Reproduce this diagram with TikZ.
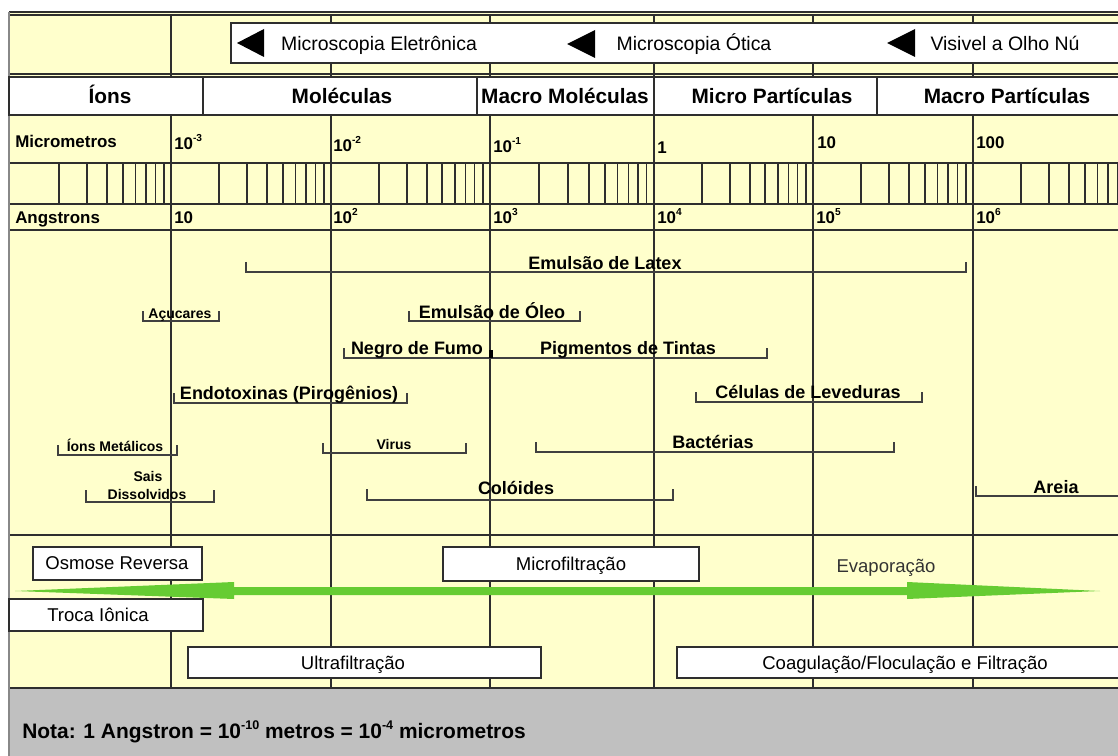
\documentclass[tikz,border=0pt]{standalone}
\usepackage{fontspec}
\setmainfont{Liberation Sans}
\definecolor{bgy}{HTML}{FFFFCC}
\definecolor{ln}{HTML}{2E2E2E}
\definecolor{grn}{HTML}{66CC33}
\definecolor{notegray}{HTML}{C0C0C0}
\definecolor{frame}{HTML}{888888}
\newcommand{\supx}[1]{\raisebox{0.45em}{\scalebox{0.6}{#1}}}
\begin{document}
\begin{tikzpicture}[x=0.75pt,y=-0.75pt,
  grid/.style={draw=ln,line width=1.4pt},
  tick/.style={draw=ln,line width=1.3pt},
  wbox/.style={draw=ln,fill=white,line width=1.2pt},
  brk/.style={draw=black!75,line width=1.4pt},
  txt/.style={inner sep=0pt,anchor=base},
  hdr/.style={txt,font=\fontsize{14.6}{17}\selectfont,yshift=-5.25pt},
  cat/.style={txt,font=\bfseries\fontsize{15.6}{18}\selectfont,yshift=-5.6pt},
  scl/.style={txt,font=\bfseries\fontsize{12.7}{15}\selectfont,yshift=-4.6pt,anchor=base west},
  big/.style={txt,font=\bfseries\fontsize{13.5}{16}\selectfont,yshift=-4.8pt},
  sml/.style={txt,font=\bfseries\fontsize{10.5}{12}\selectfont,yshift=-3.75pt},
  proc/.style={txt,font=\fontsize{13.9}{16}\selectfont,yshift=-5pt},
  note/.style={txt,font=\bfseries\fontsize{15.7}{18}\selectfont,yshift=-5.6pt,anchor=base west}]
\useasboundingbox (0,0) rectangle (1118,756);
\clip (0,0) rectangle (1118,756);
\fill[white] (0,0) rectangle (1118,756);
% backgrounds
\fill[bgy] (9,12) rectangle (1120,688);
\fill[notegray] (9,688) rectangle (1120,756);
% horizontal grid lines
\foreach \yy in {12,15,74,115,163,204,230,535,688}
  \draw[grid] (9,\yy) -- (1120,\yy);
% column lines
\foreach \xx in {171,331,490,654,813,973}
  \draw[grid] (\xx,15) -- (\xx,688);
% log ticks
\foreach \s/\w in {11/160,171/160,331/159,490/164,654/159,813/160,973/160}
  \foreach \k in {2,...,9}
    \draw[tick] ({\s+\w*log10(\k)},163) -- ({\s+\w*log10(\k)},204);
% left frame
\draw[frame,line width=2pt] (9,12) -- (9,756);
% header microscopy box
\draw[wbox] (231,23) rectangle (1125,63);
\fill[black] (237,43) -- (264,29) -- (264,57) -- cycle;
\fill[black] (567,44) -- (595,30) -- (595,58) -- cycle;
\fill[black] (887,43) -- (915,29) -- (915,57) -- cycle;
\node[hdr] (me) at (379,44) {Microscopia Eletrônica};
\node[hdr] (mo) at (694,44) {Microscopia Ótica};
\node[hdr] (vo) at (1005,44) {Visivel a Olho Nú};
% category row
\draw[wbox] (9,77) rectangle (203,115);
\draw[wbox] (203,77) rectangle (477,115);
\draw[wbox] (477,77) rectangle (654,115);
\draw[wbox] (654,77) rectangle (877,115);
\draw[wbox] (877,77) rectangle (1125,115);
\node[cat] (ions) at (110,96) {Íons};
\node[cat] (mol) at (342,96) {Moléculas};
\node[cat] (mmol) at (565,96) {Macro Moléculas};
\node[cat] (mpart) at (772,96) {Micro Partículas};
\node[cat] (Mpart) at (1007,96) {Macro Partículas};
% micrometre scale
\node[scl] (um) at (15,141) {Micrometros};
\node[scl] (u1) at (174,143) {10\supx{-3}};
\node[scl] (u2) at (333,145) {10\supx{-2}};
\node[scl] (u3) at (493,146) {10\supx{-1}};
\node[scl] (u4) at (657,147) {1};
\node[scl] (u5) at (817,142) {10};
\node[scl] (u6) at (976,142) {100};
% angstrom scale
\node[scl] (ang) at (15,217) {Angstrons};
\node[scl] (a1) at (174,217) {10};
\node[scl] (a2) at (333,217) {10\supx{2}};
\node[scl] (a3) at (493,217) {10\supx{3}};
\node[scl] (a4) at (657,217) {10\supx{4}};
\node[scl] (a5) at (816,217) {10\supx{5}};
\node[scl] (a6) at (976,217) {10\supx{6}};
% brackets
\draw[brk] (246,262) -- (246,272) -- (966,272) -- (966,262);
\node[big] (latex) at (605,263) {Emulsão de Latex};
\draw[brk] (143,311) -- (143,321) -- (219,321) -- (219,311);
\node[sml] (acu) at (180,313) {Açucares};
\draw[brk] (409,311) -- (409,321) -- (580,321) -- (580,311);
\node[big] (oleo) at (492,312) {Emulsão de Óleo};
\draw[brk] (344,348) -- (344,358) -- (767,358) -- (767,348);
\draw[black,line width=3pt] (491,350) -- (491,358);
\node[big] (negro) at (417,348) {Negro de Fumo};
\node[big] (pigm) at (628,348) {Pigmentos de Tintas};
\draw[brk] (174,393) -- (174,403) -- (407,403) -- (407,393);
\node[big] (endo) at (289,393) {Endotoxinas (Pirogênios)};
\draw[brk] (696,392) -- (696,402) -- (922,402) -- (922,392);
\node[big] (cel) at (808,392) {Células de Leveduras};
\draw[brk] (58,445) -- (58,455) -- (177,455) -- (177,445);
\node[sml] (ionm) at (115,446) {Íons Metálicos};
\draw[brk] (323,443) -- (323,453) -- (466,453) -- (466,443);
\node[sml] (virus) at (394,444) {Virus};
\draw[brk] (536,442) -- (536,452) -- (894,452) -- (894,442);
\node[big] (bact) at (713,442) {Bactérias};
\draw[brk] (86,490) -- (86,502) -- (214,502) -- (214,490);
\node[sml] (sais) at (148,476) {Sais};
\node[sml] (diss) at (147,494) {Dissolvidos};
\draw[brk] (367,489) -- (367,500) -- (673,500) -- (673,489);
\node[big] (col) at (516,488) {Colóides};
\draw[brk] (976,486) -- (976,496) -- (1125,496);
\node[big] (areia) at (1056,487) {Areia};
% processes
\draw[wbox] (33,547) rectangle (202,580);
\node[proc] (osm) at (117,563) {Osmose Reversa};
\draw[wbox] (443,547) rectangle (699,581);
\node[proc] (mf) at (571,564) {Microfiltração};
\node[proc,text=black!80] (evap) at (886,566) {Evaporação};
\fill[grn] (15,591) -- (234,582) -- (234,587) -- (907,587) -- (907,582)
  -- (1100,591) -- (907,599) -- (907,595) -- (234,595) -- (234,599) -- cycle;
\draw[wbox] (9,599) rectangle (203,631);
\node[proc] (troca) at (98,615) {Troca Iônica};
\draw[wbox] (188,647) rectangle (541,678);
\node[proc] (uf) at (353,663) {Ultrafiltração};
\draw[wbox] (677,647) rectangle (1125,678);
\node[proc] (coag) at (905,663) {Coagulação/Floculação e Filtração};
% note
\node[note] (nota) at (22,731) {Nota: 1 Angstron = 10\supx{-10} metros = 10\supx{-4} micrometros};
\end{tikzpicture}
\end{document}
